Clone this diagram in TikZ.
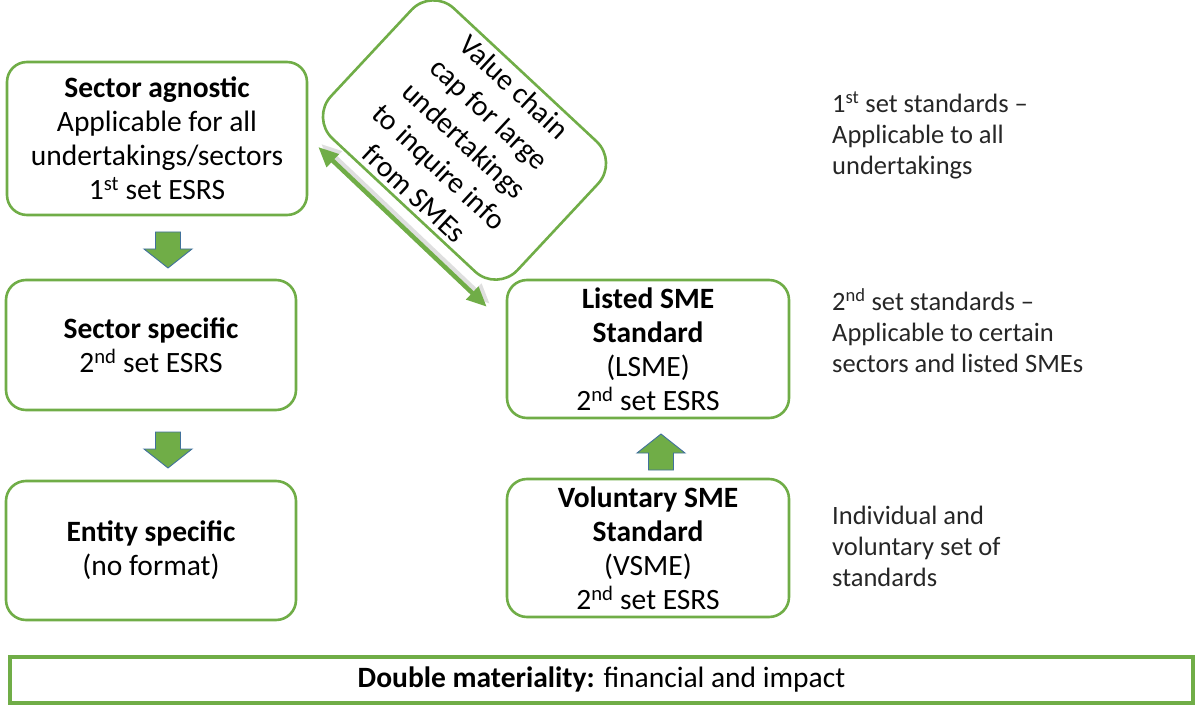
\documentclass[tikz,border=0pt]{standalone}
\usepackage{fontspec}
\setmainfont{Carlito}
\usepackage{xcolor}
\usepackage{tikz}
\usetikzlibrary{positioning}
\usetikzlibrary{arrows.meta}

\definecolor{boxgreen}{HTML}{70AD47}
\definecolor{arrowedge}{HTML}{41719C}
\definecolor{sidegray}{HTML}{262626}

\begin{document}
\begin{tikzpicture}[x=1pt,y=-1pt,>=Triangle,
	stdbox/.style={rectangle,rounded corners=20pt,draw=boxgreen,line width=2.6pt,fill=white,align=center,text=black,font={\fontsize{29.5}{34}\selectfont},inner sep=0pt},
	sidetext/.style={anchor=west,align=left,text=sidegray,font={\fontsize{26.5}{31}\selectfont},inner sep=0pt}]
	\useasboundingbox (0,0) rectangle (1196,708);

	% left column
	\node[stdbox,minimum width=300pt,minimum height=153pt] 
	(agnostic) at (157,138.5){\textbf{Sector agnostic}\\Applicable for all\\undertakings/sectors\\1\textsuperscript{st} set ESRS};
	\node[stdbox,minimum width=290pt,minimum height=130pt] 
	(specific) at (151,345){\textbf{Sector specific}\\2\textsuperscript{nd} set ESRS};
	\node[stdbox,minimum width=290pt,minimum height=139pt] 
	(entity) at (151,550.5){\textbf{Entity specific}\\(no format)};

	% right column
	\node[stdbox,minimum width=282pt,minimum height=138pt] 
	(lsme) at (648,349){\textbf{Listed SME}\\\textbf{Standard}\\(LSME)\\2\textsuperscript{nd} set ESRS};
	\node[stdbox,minimum width=282pt,minimum height=138pt] 
	(vsme) at (648,548){\textbf{Voluntary SME}\\\textbf{Standard}\\(VSME)\\2\textsuperscript{nd} set ESRS};

	% block arrows
	\foreach \x/\y/\d in {168/232/1,168/432/1,661/470/-1}{
		\draw[fill=boxgreen,draw=arrowedge,line width=0.9pt] 
		(\x-12.5,\y)--(\x+12.5,\y)--(\x+12.5,\y+17*\d)--(\x+24,\y+17*\d)--(\x,\y+36*\d)--(\x-24,\y+17*\d)--(\x-12.5,\y+17*\d)--cycle;
	}

	% value chain
	\node[stdbox,rotate=-43,rounded corners=30pt,minimum width=255pt,minimum height=178pt,font={\fontsize{29.5}{36.5}\selectfont}] 
	(chain) at (464.5,140){Value chain\\cap for large\\undertakings\\to inquire info\\from SMEs};
	\draw[<->,gray!25,line width=4.5pt,>={Triangle[length=20pt,width=17pt]}] 
	([shift={(13,5.5)}]agnostic.east)--([shift={(-16,25)}]lsme.north west);
	\draw[<->,boxgreen,line width=4.5pt,>={Triangle[length=20pt,width=17pt]}] 
	([shift={(10,8.5)}]agnostic.east)--([shift={(-19,28)}]lsme.north west);

	% side notes
	\node[sidetext] (note1) at (832,135){1\textsuperscript{st} set standards --\\Applicable to all\\undertakings};
	\node[sidetext] (note2) at (832,331){2\textsuperscript{nd} set standards --\\Applicable to certain\\sectors and listed SMEs};
	\node[sidetext] (note3) at (832,546){Individual and\\voluntary set of\\standards};

	% bottom bar
	\node[rectangle,draw=boxgreen,line width=3.5pt,minimum width=1183pt,minimum height=46pt,text=black,font={\fontsize{29.5}{34}\selectfont}] 
	(dm) at (601.5,680){\textbf{Double materiality:} financial and impact};
\end{tikzpicture}
\end{document}
